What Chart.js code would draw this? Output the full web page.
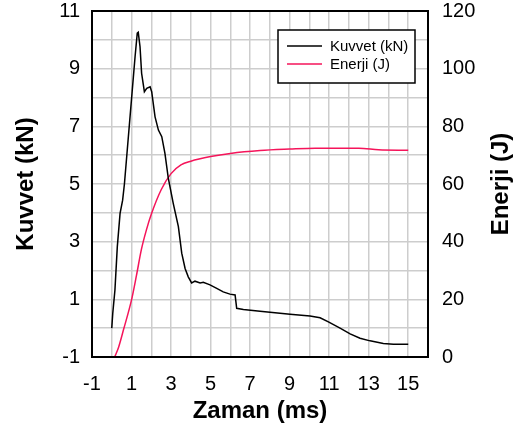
<!DOCTYPE html>
<html>
<head>
<meta charset="utf-8">
<script src="https://cdn.jsdelivr.net/npm/chart.js@4"></script>
<style>
  body { margin: 0; background: #fff; }
</style>
</head>
<body>
<canvas id="grafik" width="524" height="434"></canvas>
<script>
// Kuvvet - zaman verisi (ms, kN)
const kuvvetZaman = [0, 0.05, 0.16, 0.28, 0.42, 0.55, 0.64, 0.84, 1.01, 1.18, 1.29, 1.34, 1.43, 1.51, 1.65, 1.77, 1.94, 2.02, 2.19, 2.36, 2.53, 2.69, 2.86, 3.11, 3.37, 3.54, 3.71, 3.87, 4.04, 4.21, 4.47, 4.63, 4.97, 5.31, 5.64, 5.98, 6.24, 6.32, 6.66, 7.5, 9.02, 10.03, 10.54, 10.96, 11.55, 12.06, 12.56, 13.07, 13.74, 14.25, 15.0];
const kuvvet = [0, 0.51, 1.32, 2.82, 3.98, 4.44, 5.0, 6.64, 8.03, 9.42, 10.23, 10.26, 9.76, 8.84, 8.2, 8.32, 8.37, 8.2, 7.33, 6.87, 6.64, 6.06, 5.2, 4.33, 3.52, 2.6, 2.07, 1.78, 1.57, 1.63, 1.57, 1.59, 1.5, 1.38, 1.26, 1.18, 1.15, 0.69, 0.65, 0.59, 0.48, 0.42, 0.36, 0.22, 0.0, -0.2, -0.35, -0.44, -0.53, -0.56, -0.56];

// Enerji - zaman verisi (ms, J)
const enerjiZaman = [0.15, 0.35, 0.6, 1.0, 1.25, 1.5, 1.75, 2.0, 2.5, 3.0, 3.5, 4.0, 5.0, 6.0, 7.5, 9.0, 10.3, 12.5, 13.5, 15.0];
const enerji = [0, 3.5, 9.6, 19.8, 28.3, 37.3, 44, 49.5, 58, 63.6, 66.6, 67.9, 69.5, 70.6, 71.6, 72.1, 72.4, 72.4, 71.9, 71.7];

// Eksen etiketleri (tek sayilar yazilir, izgara her birimde)
const zamanEtiketleri = [-1, 1, 3, 5, 7, 9, 11, 13, 15];
const kuvvetEtiketleri = [-1, 1, 3, 5, 7, 9, 11];
const enerjiEtiketleri = [0, 20, 40, 60, 80, 100, 120];

const yazi = 'Liberation Sans, Arial, sans-serif';

const noktalar = (xs, ys) => xs.map((x, i) => ({ x: x, y: ys[i] }));

// Eksenlerin kenar bosluklarini sabitle
const sabitle = (s, boyut) => {
  if (s.isHorizontal()) s.height = boyut; else s.width = boyut;
  s.paddingTop = 0;
  s.paddingBottom = 0;
  s.paddingLeft = 0;
  s.paddingRight = 0;
};

// Grafik alaninin cercevesi
const cerceve = {
  id: 'cerceve',
  afterDatasetsDraw(chart) {
    const { ctx, chartArea: a } = chart;
    ctx.save();
    ctx.strokeStyle = '#000';
    ctx.lineWidth = 2;
    ctx.strokeRect(a.left, a.top, a.right - a.left, a.bottom - a.top);
    ctx.restore();
  }
};

// Sag eksen basligi (asagidan yukariya okunur)
const sagBaslik = {
  id: 'sagBaslik',
  afterDraw(chart) {
    const { ctx, chartArea: a } = chart;
    ctx.save();
    ctx.translate(501, (a.top + a.bottom) / 2);
    ctx.rotate(-Math.PI / 2);
    ctx.font = 'bold 24px ' + yazi;
    ctx.fillStyle = '#000';
    ctx.textAlign = 'center';
    ctx.textBaseline = 'middle';
    ctx.fillText('Enerji (J)', 0, 0);
    ctx.restore();
  }
};

// Cerceveli lejant kutusu
const lejant = {
  id: 'lejant',
  afterDraw(chart) {
    const { ctx, chartArea: a } = chart;
    const sag = a.right - 13, ust = a.top + 19;
    const gen = 137, yuk = 53;
    const sol = sag - gen;
    ctx.save();
    ctx.fillStyle = '#fff';
    ctx.fillRect(sol, ust, gen, yuk);
    ctx.strokeStyle = '#000';
    ctx.lineWidth = 1.5;
    ctx.strokeRect(sol, ust, gen, yuk);
    ctx.font = '15px ' + yazi;
    ctx.textBaseline = 'middle';
    chart.data.datasets.forEach((ds, i) => {
      const y = ust + 16 + i * 18;
      ctx.strokeStyle = ds.borderColor;
      ctx.lineWidth = 1.5;
      ctx.beginPath();
      ctx.moveTo(sol + 9, y);
      ctx.lineTo(sol + 44, y);
      ctx.stroke();
      ctx.fillStyle = '#000';
      ctx.fillText(ds.label, sol + 52, y + 1);
    });
    ctx.restore();
  }
};

new Chart(document.getElementById('grafik').getContext('2d'), {
  type: 'line',
  data: {
    datasets: [
      {
        label: 'Kuvvet (kN)',
        data: noktalar(kuvvetZaman, kuvvet),
        borderColor: '#000000',
        borderWidth: 1.5,
        pointRadius: 0,
        tension: 0,
        yAxisID: 'y'
      },
      {
        label: 'Enerji (J)',
        data: noktalar(enerjiZaman, enerji),
        borderColor: '#f5145a',
        borderWidth: 1.5,
        pointRadius: 0,
        cubicInterpolationMode: 'monotone',
        yAxisID: 'y1'
      }
    ]
  },
  options: {
    responsive: false,
    animation: false,
    layout: { padding: { top: 11, left: 0, right: 0, bottom: 0 } },
    plugins: {
      legend: { display: false },
      tooltip: { enabled: false }
    },
    scales: {
      x: {
        type: 'linear',
        min: -1,
        max: 16,
        afterFit: s => sabitle(s, 77),
        afterBuildTicks: s => { s.ticks = Array.from({ length: 18 }, (_, i) => ({ value: i - 1 })); },
        grid: { color: '#cdcdcd', lineWidth: 1.5, drawTicks: false },
        border: { display: false },
        ticks: {
          autoSkip: false,
          maxRotation: 0,
          padding: 15,
          color: '#000',
          font: { family: yazi, size: 20 },
          callback: v => zamanEtiketleri.includes(v) ? String(v) : ''
        },
        title: {
          display: true,
          text: 'Zaman (ms)',
          color: '#000',
          font: { family: yazi, size: 24, weight: 'bold' },
          padding: { top: 0, bottom: 8 }
        }
      },
      y: {
        position: 'left',
        min: -1,
        max: 11,
        afterFit: s => sabitle(s, 92),
        afterBuildTicks: s => { s.ticks = Array.from({ length: 13 }, (_, i) => ({ value: i - 1 })); },
        grid: { color: '#cdcdcd', lineWidth: 1.5, drawTicks: false },
        border: { display: false },
        ticks: {
          autoSkip: false,
          padding: 12,
          color: '#000',
          font: { family: yazi, size: 20 },
          callback: v => kuvvetEtiketleri.includes(v) ? String(v) : ''
        },
        title: {
          display: true,
          text: 'Kuvvet (kN)',
          color: '#000',
          font: { family: yazi, size: 24, weight: 'bold' },
          padding: { top: 12, bottom: 0 }
        }
      },
      y1: {
        position: 'right',
        min: 0,
        max: 120,
        afterFit: s => sabitle(s, 96),
        afterBuildTicks: s => { s.ticks = Array.from({ length: 13 }, (_, i) => ({ value: i * 10 })); },
        grid: { display: false, drawTicks: false },
        border: { display: false },
        ticks: {
          autoSkip: false,
          padding: 14,
          color: '#000',
          font: { family: yazi, size: 20 },
          callback: v => enerjiEtiketleri.includes(v) ? String(v) : ''
        }
      }
    }
  },
  plugins: [cerceve, sagBaslik, lejant]
});
</script>
</body>
</html>
